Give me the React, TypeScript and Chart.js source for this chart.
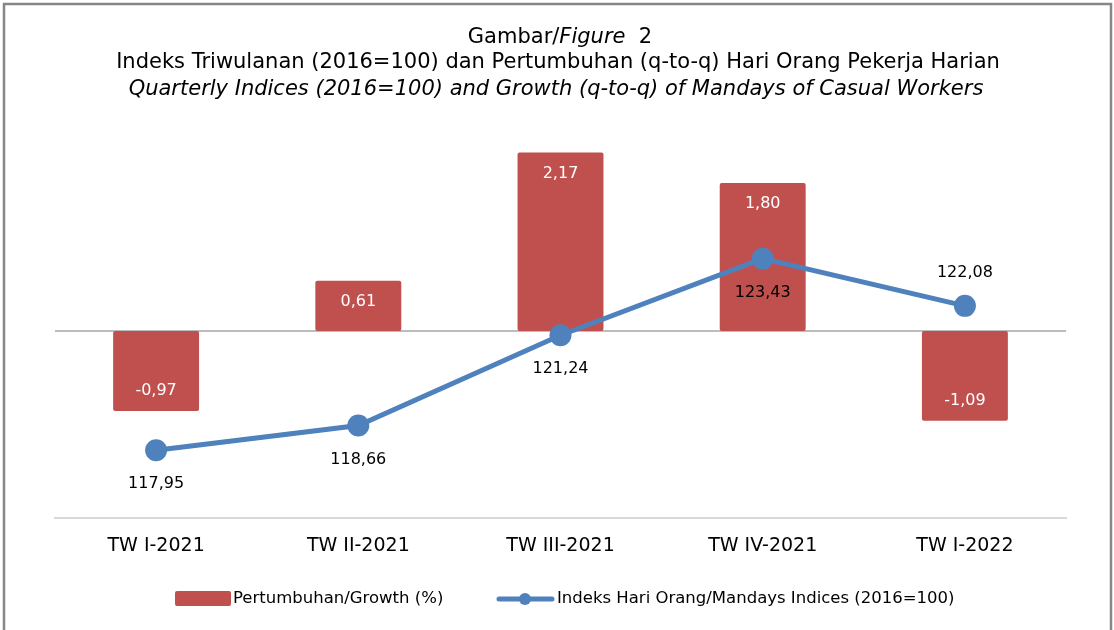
import React, { useEffect, useRef } from "react";
import { Chart, registerables } from "chart.js";

Chart.register(...registerables);

const categories = ["TW I-2021", "TW II-2021", "TW III-2021", "TW IV-2021", "TW I-2022"];
const growth = [-0.97, 0.61, 2.17, 1.8, -1.09];
const indices = [117.95, 118.66, 121.24, 123.43, 122.08];
const growthLabel = "Pertumbuhan/Growth (%)";
const indexLabel = "Indeks Hari Orang/Mandays Indices (2016=100)";
const titleLine1 = ["Gambar/", "Figure", "  2"];
const titleLine2 = "Indeks Triwulanan (2016=100) dan Pertumbuhan (q-to-q) Hari Orang Pekerja Harian";
const titleLine3 = "Quarterly Indices (2016=100) and Growth (q-to-q) of Mandays of Casual Workers";

const FONT = "'DejaVu Sans', Verdana, sans-serif";
const RED = "#C0504D";
const BLUE = "#4F81BD";

const fmt = (v: number) => v.toFixed(2).replace(".", ",");

const framePlugin = {
  id: "frame",
  beforeDraw(chart: any) {
    const { ctx, width, height } = chart;
    ctx.save();
    ctx.fillStyle = "#ffffff";
    ctx.fillRect(0, 0, width, height);
    ctx.strokeStyle = "#878787";
    ctx.lineWidth = 2.5;
    ctx.strokeRect(4, 4, width - 7, height + 20);
    ctx.restore();
  },
};

const zeroLinePlugin = {
  id: "zeroLine",
  beforeDatasetsDraw(chart: any) {
    const { ctx, chartArea, scales } = chart;
    const y = scales.y.getPixelForValue(0);
    ctx.save();
    ctx.strokeStyle = "#a6a6a6";
    ctx.lineWidth = 1.5;
    ctx.beginPath();
    ctx.moveTo(chartArea.left, y);
    ctx.lineTo(chartArea.right, y);
    ctx.stroke();
    ctx.restore();
  },
};

const labelsPlugin = {
  id: "valueLabels",
  afterDatasetsDraw(chart: any) {
    const { ctx } = chart;
    ctx.save();
    ctx.textAlign = "center";
    ctx.textBaseline = "middle";
    ctx.font = `16px ${FONT}`;
    const barMeta = chart.getDatasetMeta(0);
    barMeta.data.forEach((el: any, i: number) => {
      const v = growth[i];
      ctx.fillStyle = "#ffffff";
      const y = v >= 0 ? el.y + 21 : el.y - 20;
      ctx.fillText(fmt(v), el.x, y);
    });
    const lineMeta = chart.getDatasetMeta(1);
    lineMeta.data.forEach((el: any, i: number) => {
      ctx.fillStyle = "#000000";
      const y = i === 4 ? el.y - 33 : el.y + 34;
      ctx.fillText(fmt(indices[i]), el.x, y);
    });
    ctx.restore();
  },
};

const titleLegendPlugin = {
  id: "titleLegend",
  afterDraw(chart: any) {
    const { ctx } = chart;
    ctx.save();
    ctx.fillStyle = "#000000";
    ctx.textBaseline = "middle";
    // Title line 1 (mixed styles)
    const normal = `21px ${FONT}`;
    const italic = `italic 21px ${FONT}`;
    ctx.font = normal;
    const w1 = ctx.measureText(titleLine1[0]).width;
    const w3 = ctx.measureText(titleLine1[2]).width;
    ctx.font = italic;
    const w2 = ctx.measureText(titleLine1[1]).width;
    let x = 560 - (w1 + w2 + w3) / 2;
    ctx.textAlign = "left";
    ctx.font = normal;
    ctx.fillText(titleLine1[0], x, 38);
    x += w1;
    ctx.font = italic;
    ctx.fillText(titleLine1[1], x, 38);
    x += w2;
    ctx.font = normal;
    ctx.fillText(titleLine1[2], x, 38);
    // lines 2 and 3
    ctx.textAlign = "center";
    ctx.font = normal;
    ctx.fillText(titleLine2, 558, 63);
    ctx.font = italic;
    ctx.fillText(titleLine3, 556, 90);

    // Legend
    ctx.textAlign = "left";
    ctx.font = `16.5px ${FONT}`;
    ctx.fillStyle = RED;
    ctx.beginPath();
    (ctx as any).roundRect(175, 591, 56, 15, 2);
    ctx.fill();
    ctx.fillStyle = "#000000";
    ctx.fillText(growthLabel, 233, 599);

    ctx.strokeStyle = BLUE;
    ctx.lineWidth = 5;
    ctx.lineCap = "round";
    ctx.beginPath();
    ctx.moveTo(499, 599);
    ctx.lineTo(552, 599);
    ctx.stroke();
    ctx.fillStyle = BLUE;
    ctx.beginPath();
    ctx.arc(525, 599, 6, 0, Math.PI * 2);
    ctx.fill();
    ctx.fillStyle = "#000000";
    ctx.fillText(indexLabel, 557, 599);
    ctx.restore();
  },
};

export default function App() {
  const ref = useRef<HTMLCanvasElement | null>(null);
  useEffect(() => {
    document.body.style.margin = "0";
    if (!ref.current) return;
    const chart = new Chart(ref.current, {
      type: "bar",
      data: {
        labels: categories,
        datasets: [
          {
            type: "bar",
            label: growthLabel,
            data: growth,
            backgroundColor: RED,
            borderRadius: 2,
            borderSkipped: false,
            barPercentage: 0.425,
            categoryPercentage: 1,
            yAxisID: "y",
            order: 1,
          } as any,
          {
            type: "line",
            label: indexLabel,
            data: indices,
            borderColor: BLUE,
            backgroundColor: BLUE,
            borderWidth: 5,
            pointRadius: 11,
            pointBorderWidth: 0,
            pointBackgroundColor: BLUE,
            yAxisID: "yLine",
            order: 0,
            tension: 0,
          } as any,
        ],
      },
      options: {
        responsive: false,
        animation: false,
        layout: { padding: { left: 55, right: 48, top: 132, bottom: 57 } },
        plugins: {
          legend: { display: false },
          title: { display: false },
          tooltip: { enabled: false },
        },
        scales: {
          x: {
            grid: { display: false, drawTicks: false },
            border: { display: true, color: "#d9d9d9", width: 2 },
            ticks: { color: "#000000", font: { family: FONT, size: 19 }, padding: 16 },
          },
          y: { display: false, position: "left", min: -2.273, max: 2.418 },
          yLine: { display: false, position: "right", min: 116.01, max: 127.05 },
        },
      },
      plugins: [framePlugin, zeroLinePlugin, labelsPlugin, titleLegendPlugin],
    });
    return () => chart.destroy();
  }, []);
  return <canvas ref={ref} width={1114} height={630} style={{ display: "block" }} />;
}
